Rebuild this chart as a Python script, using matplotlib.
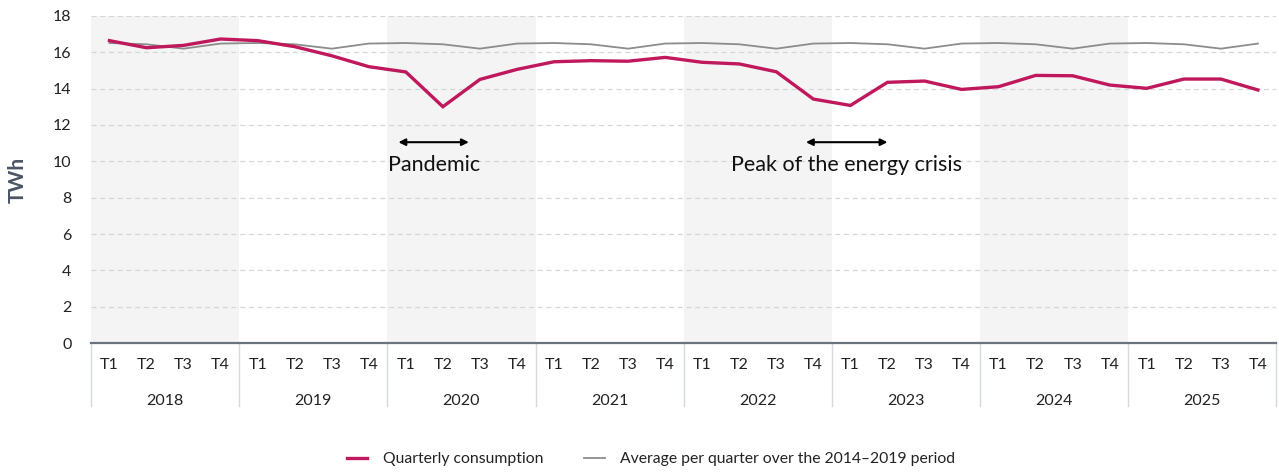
import numpy as np
import matplotlib.pyplot as plt
from matplotlib.lines import Line2D

plt.rcParams['font.family'] = ['Lato', 'DejaVu Sans']

years = ['2018', '2019', '2020', '2021', '2022', '2023', '2024', '2025']
quarters = ['T1', 'T2', 'T3', 'T4']

# quarterly consumption (TWh)
consumption = [16.63, 16.24, 16.37, 16.72,
               16.63, 16.30, 15.80, 15.20,
               14.91, 13.00, 14.50, 15.05,
               15.47, 15.53, 15.50, 15.71,
               15.44, 15.35, 14.92, 13.42,
               13.07, 14.34, 14.41, 13.95,
               14.10, 14.72, 14.70, 14.19,
               14.01, 14.52, 14.52, 13.92]
# average per quarter 2014-2019
avg_quarter = [16.50, 16.43, 16.19, 16.47]

n = len(years) * len(quarters)
x = np.arange(n)
avg = np.tile(avg_quarter, len(years))

pink = '#c0185c'
grey = '#8c8c8c'

fig = plt.figure(figsize=(12.79, 4.72), dpi=100)
ax = fig.add_axes([0.0711, 0.2727, 0.9269, 0.694])

# alternating year shading
for i in range(0, len(years), 2):
    ax.axvspan(i * 4 - 0.5, i * 4 + 3.5, color='#f4f4f4', zorder=0, lw=0)

for yv in range(2, 19, 2):
    ax.axhline(yv, color='#d3d7dc', lw=0.9, ls=(0, (4, 3)), zorder=1)

ax.plot(x, avg, color=grey, lw=1.3, zorder=3)
ax.plot(x, consumption, color=pink, lw=2.4, zorder=4, solid_joinstyle='miter')

ax.set_xlim(-0.5, n - 0.5)
ax.set_ylim(0, 18)
ax.set_yticks(range(0, 19, 2))
ax.tick_params(axis='y', length=0, labelsize=11.5, colors='#222222', pad=14)
ax.set_xticks([])
for s in ['top', 'right', 'left']:
    ax.spines[s].set_visible(False)
ax.spines['bottom'].set_color('#6b7280')
ax.spines['bottom'].set_linewidth(1.6)
ax.set_ylabel('TWh', fontsize=15, fontweight='bold', color='#4a5563', labelpad=18)

# two-level category axis
trans = ax.get_xaxis_transform()
for i, yr in enumerate(years):
    for j, q in enumerate(quarters):
        ax.text(i * 4 + j, -0.065, q, transform=trans, ha='center', va='center',
                fontsize=11.5, color='#222222')
    ax.text(i * 4 + 1.5, -0.175, yr, transform=trans, ha='center', va='center',
            fontsize=11.5, color='#222222')
for b in range(len(years) + 1):
    ax.plot([b * 4 - 0.5, b * 4 - 0.5], [0, -0.19], transform=trans,
            color='#d6d9dd', lw=1, clip_on=False)

# annotations
ax.annotate('', xy=(7.8, 11.05), xytext=(9.7, 11.05),
            arrowprops=dict(arrowstyle='<|-|>', color='black', lw=1.5,
                            mutation_scale=10, shrinkA=0, shrinkB=0))
ax.text(8.75, 9.8, 'Pandemic', ha='center', va='center', fontsize=15.5, color='#111111')
ax.annotate('', xy=(18.8, 11.05), xytext=(21.0, 11.05),
            arrowprops=dict(arrowstyle='<|-|>', color='black', lw=1.5,
                            mutation_scale=10, shrinkA=0, shrinkB=0))
ax.text(19.9, 9.8, 'Peak of the energy crisis', ha='center', va='center',
        fontsize=15.5, color='#111111')

handles = [Line2D([], [], color=pink, lw=2.4),
           Line2D([], [], color=grey, lw=1.3)]
fig.legend(handles, ['Quarterly consumption',
                     'Average per quarter over the 2014\u20132019 period'],
           loc='center', bbox_to_anchor=(0.509, 0.027), ncol=2, frameon=False,
           fontsize=11.3, handlelength=1.3, columnspacing=2.6, handletextpad=1.0,
           labelcolor='#222222')

fig.savefig('out.png', dpi=100)
